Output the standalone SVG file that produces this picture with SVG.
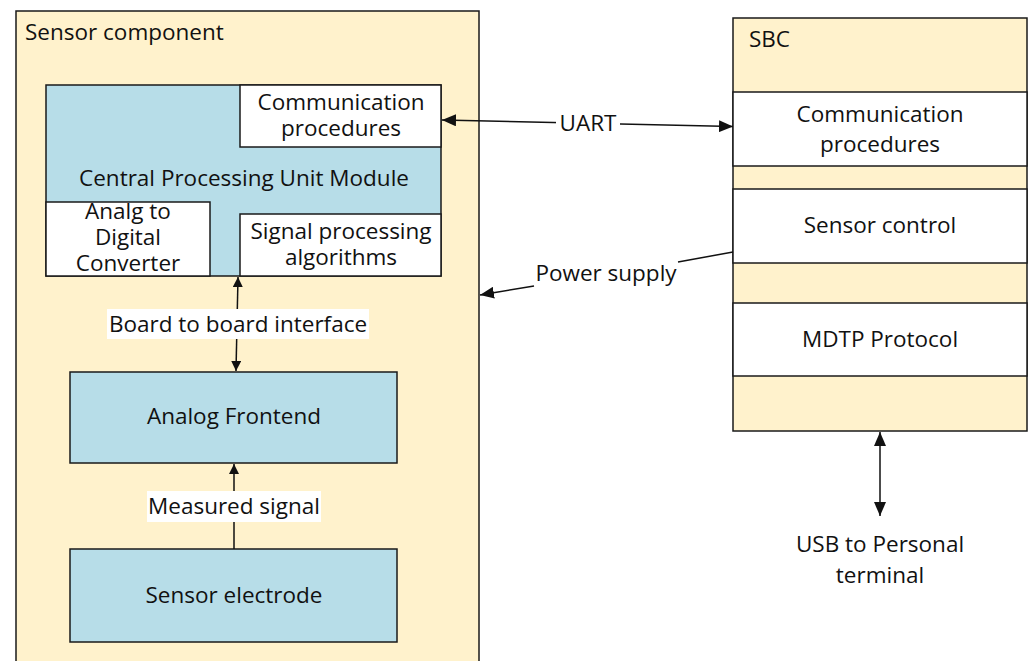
<svg xmlns="http://www.w3.org/2000/svg" width="1030" height="661" viewBox="0 0 1030 661">
<defs>
<style>
.box{stroke:#1a1a1a;stroke-width:1.5}
.beige{fill:#FFF2CC}
.blue{fill:#B7DDE8}
.white{fill:#FFFFFF}
text{font-family:"Open Sans","Noto Sans",sans-serif;font-size:22.5px;fill:#111}
.c{text-anchor:middle}
.ln{stroke:#111;stroke-width:1.5;fill:none}
</style>
<marker id="ah" viewBox="0 0 10 10" refX="10" refY="5" markerWidth="10" markerHeight="10" markerUnits="userSpaceOnUse" orient="auto-start-reverse">
<path d="M0,0 L10,5 L0,10 z" fill="#111"/>
</marker>
<marker id="ahL" viewBox="0 0 14 12" refX="14" refY="6" markerWidth="14" markerHeight="12" markerUnits="userSpaceOnUse" orient="auto-start-reverse">
<path d="M0,0 L14,6 L0,12 z" fill="#111"/>
</marker>
</defs>
<rect width="1030" height="661" fill="#fff"/>
<g id="sensor-component">
<rect class="box beige" x="16" y="11" width="463" height="660"/>
<text x="25" y="40">Sensor component</text>
</g>
<g id="cpu-module">
<rect class="box blue" x="46" y="85" width="395" height="191"/>
<text class="c" x="244" y="186">Central Processing Unit Module</text>
</g>
<g id="comm-proc-sensor">
<rect class="box white" x="240" y="85" width="201" height="62"/>
<text class="c" x="341" y="110">Communication</text>
<text class="c" x="341" y="136">procedures</text>
</g>
<g id="adc">
<rect class="box white" x="46" y="202" width="164" height="74"/>
<text class="c" x="128" y="219">Analg to</text>
<text class="c" x="128" y="245">Digital</text>
<text class="c" x="128" y="271">Converter</text>
</g>
<g id="signal-processing">
<rect class="box white" x="240" y="214" width="201" height="62"/>
<text class="c" x="341" y="239">Signal processing</text>
<text class="c" x="341" y="265">algorithms</text>
</g>
<g id="analog-frontend">
<rect class="box blue" x="70" y="372" width="327" height="91"/>
<text class="c" x="234" y="424">Analog Frontend</text>
</g>
<g id="sensor-electrode">
<rect class="box blue" x="70" y="549" width="327" height="93"/>
<text class="c" x="234" y="603">Sensor electrode</text>
</g>
<g id="sbc">
<rect class="box beige" x="733" y="18" width="294" height="413"/>
<text x="749" y="47">SBC</text>
</g>
<g id="comm-proc-sbc">
<rect class="box white" x="733" y="92" width="294" height="74"/>
<text class="c" x="880" y="122">Communication</text>
<text class="c" x="880" y="152">procedures</text>
</g>
<g id="sensor-control">
<rect class="box white" x="733" y="189" width="294" height="74"/>
<text class="c" x="880" y="233">Sensor control</text>
</g>
<g id="mdtp">
<rect class="box white" x="733" y="303" width="294" height="73"/>
<text class="c" x="880" y="347">MDTP Protocol</text>
</g>
<g id="connectors">
<line class="ln" x1="236" y1="371" x2="238" y2="277" marker-start="url(#ah)" marker-end="url(#ah)"/>
<rect x="107" y="309" width="262" height="30" fill="#fff"/>
<text class="c" x="238" y="332">Board to board interface</text>
<line class="ln" x1="234" y1="549" x2="234" y2="464" marker-end="url(#ah)"/>
<rect x="147" y="491" width="174" height="31" fill="#fff"/>
<text class="c" x="234" y="514">Measured signal</text>
<line class="ln" x1="442" y1="120" x2="733" y2="126.5" marker-start="url(#ahL)" marker-end="url(#ahL)"/>
<rect x="556" y="110" width="64" height="26" fill="#fff"/>
<text class="c" x="588" y="131">UART</text>
<polyline class="ln" points="733,252 678,262"/>
<line class="ln" x1="534" y1="286" x2="480" y2="295" marker-end="url(#ahL)"/>
<text class="c" x="606" y="281">Power supply</text>
<line class="ln" x1="880" y1="432" x2="880" y2="516" marker-start="url(#ahL)" marker-end="url(#ahL)"/>
<text class="c" x="880" y="552">USB to Personal</text>
<text class="c" x="880" y="583">terminal</text>
</g>
</svg>
